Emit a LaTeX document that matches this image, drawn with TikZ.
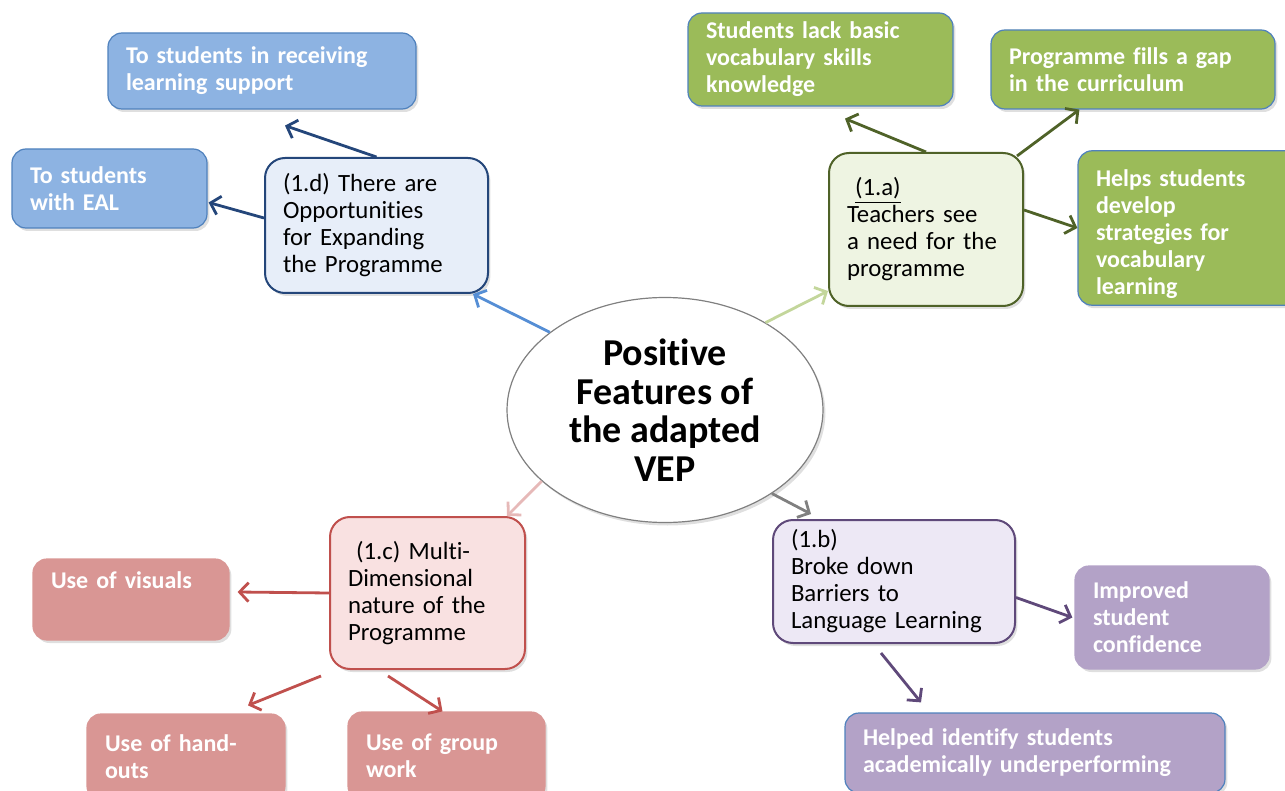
\documentclass[tikz,border=0pt]{standalone}
\usepackage{fontspec}
\setmainfont{Carlito}[Ligatures=NoCommon]
\usetikzlibrary{arrows.meta,shapes.geometric,shadows}

\definecolor{bluefill}{HTML}{8DB3E2}
\definecolor{blueline}{HTML}{4F81BD}
\definecolor{bluepale}{HTML}{E7EEF9}
\definecolor{bluedark}{HTML}{24467A}
\definecolor{bluelight}{HTML}{558ED5}
\definecolor{greenfill}{HTML}{9BBB59}
\definecolor{greenpale}{HTML}{EEF4E2}
\definecolor{greendark}{HTML}{4F6228}
\definecolor{greenlight}{HTML}{C3D69B}
\definecolor{redfill}{HTML}{D99694}
\definecolor{redpale}{HTML}{F9E1E1}
\definecolor{reddark}{HTML}{C0504D}
\definecolor{redlight}{HTML}{E6B9B8}
\definecolor{purplefill}{HTML}{B3A2C7}
\definecolor{purplepale}{HTML}{EDE8F5}
\definecolor{purpledark}{HTML}{5F497A}

\tikzset{
  shade/.style={drop shadow={shadow xshift=1.2pt,shadow yshift=-1.5pt,opacity=0.25}},
  topic/.style={shade,draw,rounded corners=10pt,line width=1pt,inner xsep=9pt,
    align=left,font=\fontsize{12.4}{13.5}\selectfont},
  leaf/.style={shade,draw,rounded corners=7pt,line width=0.6pt,inner xsep=9pt,
    align=left,text=white,font=\bfseries\fontsize{12}{13.5}\selectfont},
  link/.style={line width=1.4pt,-{Straight Barb[length=4.5pt,width=9.5pt]}}
}

\begin{document}
\begin{tikzpicture}[x=0.5pt,y=-0.5pt]
    \useasboundingbox (0,0) rectangle (1285,791);
    \clip (0,0) rectangle (1285,791);

    \node[shade,ellipse,draw=gray,fill=white,line width=0.6pt,minimum width=158pt,minimum height=112.5pt,
      align=center,font=\bfseries\fontsize{19}{19.3}\selectfont] (vep) at (665,410)
      {Positive\\Features of\\the adapted\\VEP};

    % (1.d)
    \node[topic,fill=bluepale,draw=bluedark,text width=93.5pt,minimum height=67.5pt] (opp) at (376.5,225.5)
      {(1.d) There are\\Opportunities\\for Expanding\\the Programme};
    \node[leaf,fill=bluefill,draw=blueline,text width=136pt,minimum height=38pt] (recv) at (262,71)
      {To students in receiving\\learning support};
    \node[leaf,fill=bluefill,draw=blueline,text width=79.5pt,minimum height=39.5pt] (eal) at (109.5,188.5)
      {To students\\with EAL};

    % (1.a)
    \node[topic,fill=greenpale,draw=greendark,text width=79pt,minimum height=76.5pt] (need) at (926,229.5)
      {\hspace*{4pt}\underline{(1.a)}\\Teachers see\\a need for the\\programme};
    \node[leaf,fill=greenfill,draw=blueline,text width=114.5pt,minimum height=46.5pt] (lack) at (820.5,59.5)
      {Students lack basic\\vocabulary skills\\knowledge};
    \node[leaf,fill=greenfill,draw=blueline,text width=124pt,minimum height=39.5pt] (gap) at (1133,69.5)
      {Programme fills a gap\\in the curriculum};
    \node[leaf,fill=greenfill,draw=blueline,text width=93pt,minimum height=77pt,text height=14.5pt] (helps) at (1189,228)
      {Helps students\\develop\\strategies for\\vocabulary\\learning};

    % (1.c)
    \node[topic,fill=redpale,draw=reddark,text width=79.5pt,minimum height=76pt] (multi) at (427.5,593)
      {\hspace*{4pt}(1.c) Multi-\\Dimensional\\nature of the\\Programme};
    \node[leaf,fill=redfill,draw=redfill,text width=80pt,minimum height=40.5pt,text depth=19pt] (visuals) at (131,599.5)
      {Use of visuals};
    \node[leaf,fill=redfill,draw=redfill,text width=81pt,minimum height=43pt] (handouts) at (186,757)
      {Use of hand-\\outs};
    \node[leaf,fill=redfill,draw=redfill,text width=80.5pt,minimum height=44pt] (group) at (446.5,756)
      {Use of group\\work};

    % (1.b)
    \node[topic,fill=purplepale,draw=purpledark,text width=103pt,minimum height=61.5pt] (barriers) at (894,581.5)
      {(1.b)\\Broke down\\Barriers to\\Language Learning};
    \node[leaf,fill=purplefill,draw=purplefill,text width=79pt,minimum height=51.5pt] (confidence) at (1172,617.5)
      {Improved\\student\\confidence};
    \node[leaf,fill=purplefill,draw=blueline,text width=172pt,minimum height=40pt] (underperf) at (1035,753)
      {Helped identify students\\academically underperforming};

    \draw[link,bluelight] (vep.146) -- ([xshift=-8pt]opp.south east);
    \draw[link,bluedark] (opp.north) -- ([xshift=11.5pt,yshift=-8pt]recv.south);
    \draw[link,bluedark] ([yshift=3.75pt]opp.west) -- ([xshift=0.5pt,yshift=-7pt]eal.east);

    \draw[link,greenlight] (vep.41) -- ([yshift=8pt]need.south west);
    \draw[link,greendark] (need.north) -- ([xshift=12.25pt,yshift=-6pt]lack.south);
    \draw[link,greendark] ([xshift=-3.5pt,yshift=-2pt]need.north east) -- ([xshift=44.5pt]gap.south west);
    \draw[link,greendark] ([yshift=9.75pt]need.east) -- (helps.west);

    \draw[link,redlight] (vep.210) -- ([xshift=-9.5pt]multi.north east);
    \draw[link,reddark] (multi.west) -- ([xshift=4pt,yshift=3.75pt]visuals.east);
    \draw[link,reddark] ([xshift=-4pt,yshift=-3pt]multi.south west) -- ([xshift=31pt,yshift=4pt]handouts.north);
    \draw[link,reddark] ([xshift=-19.75pt,yshift=-3pt]multi.south) -- ([xshift=-2pt]group.north);

    \draw[link,gray] (vep.-38) -- ([xshift=19.5pt,yshift=2.5pt]barriers.north west);
    \draw[link,purpledark] ([yshift=-8pt]barriers.east) -- ([xshift=-1pt]confidence.west);
    \draw[link,purpledark] ([xshift=-6.5pt,yshift=-4.5pt]barriers.south) -- ([xshift=-57pt,yshift=5pt]underperf.north);
\end{tikzpicture}
\end{document}
